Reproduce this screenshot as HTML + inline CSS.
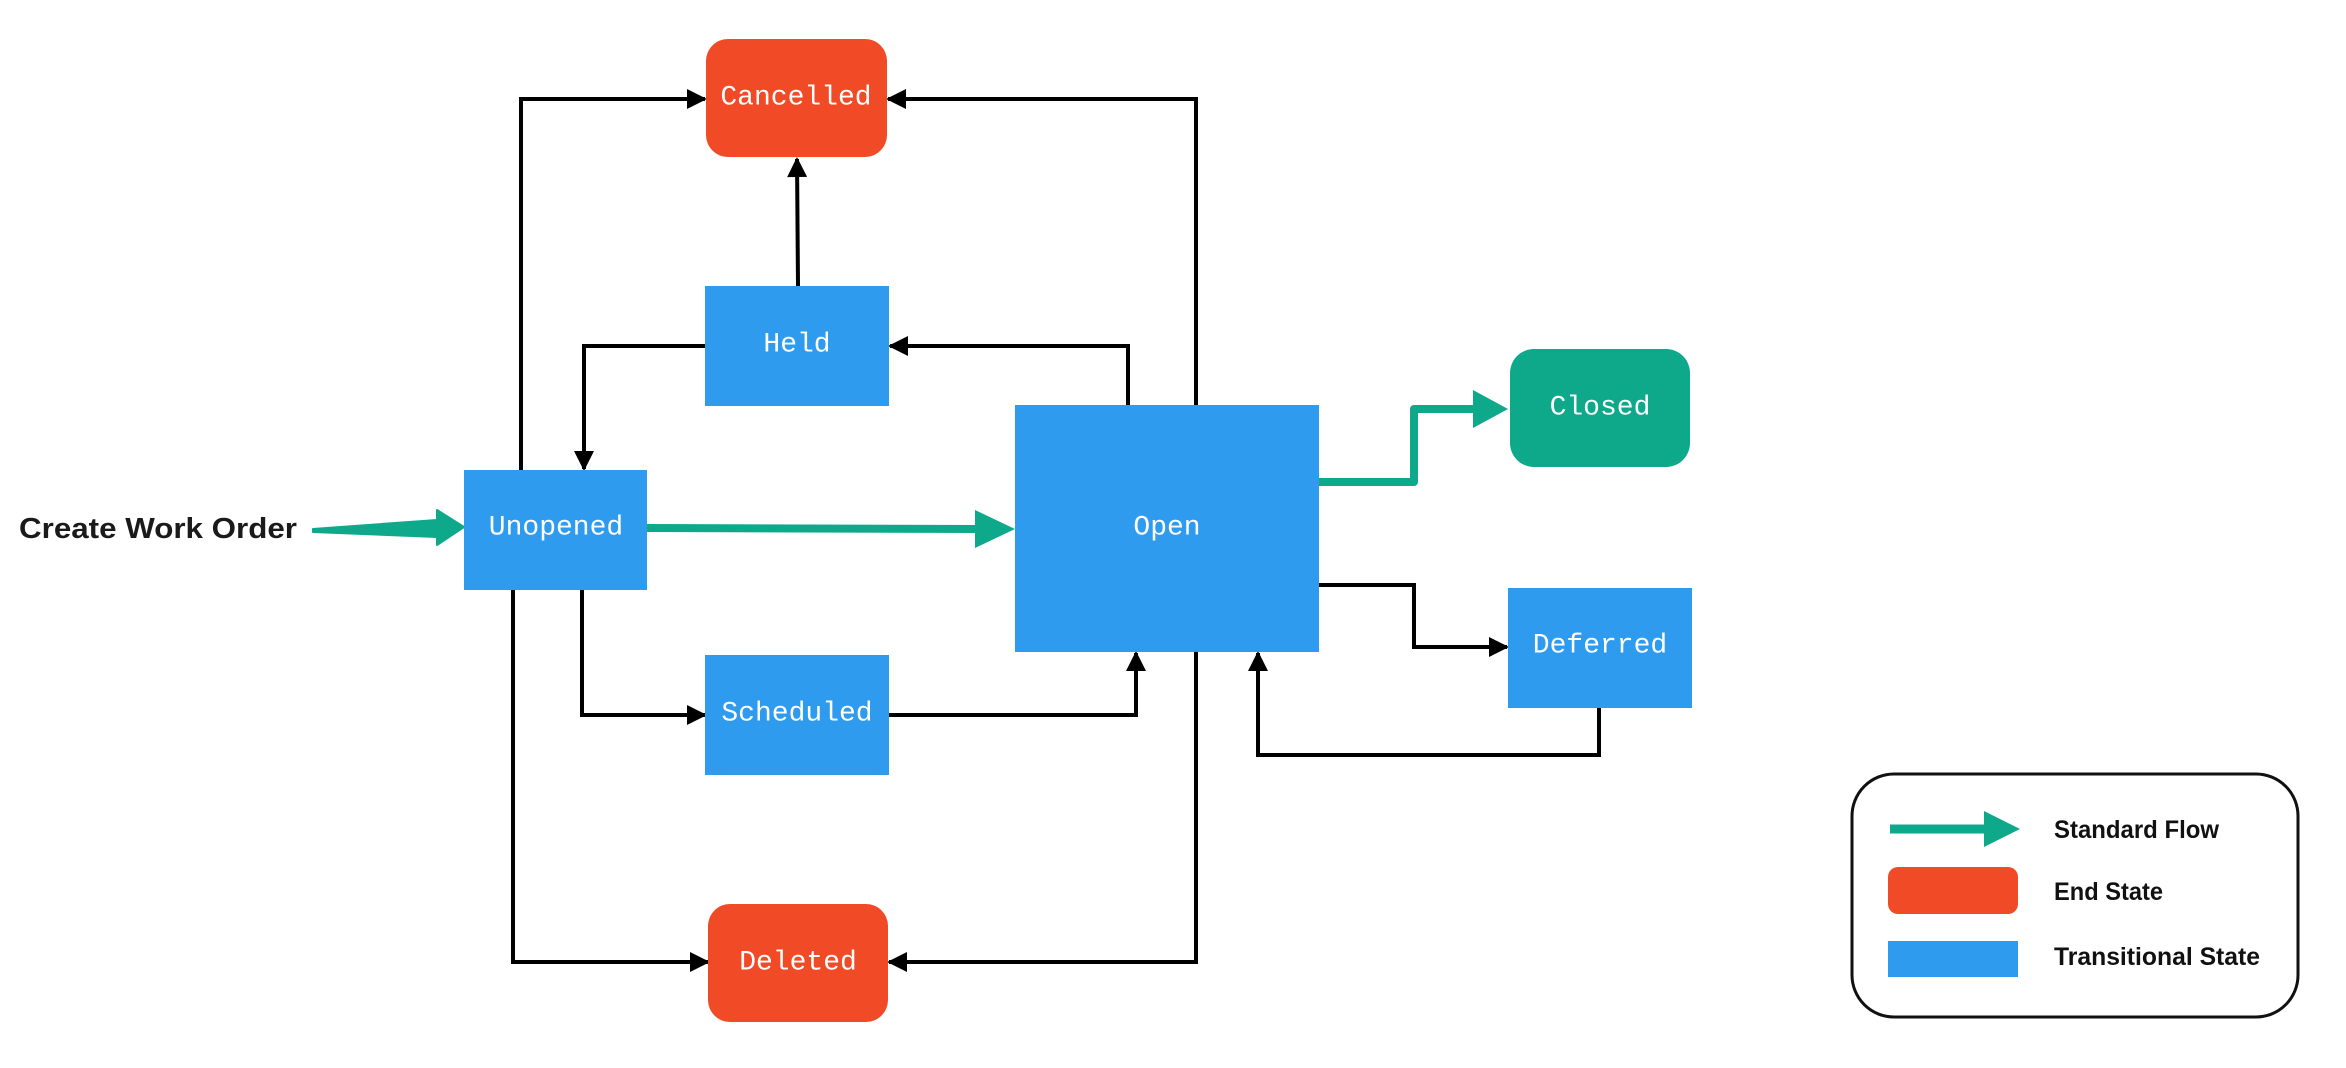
<!DOCTYPE html>
<html><head><meta charset="utf-8"><style>
html,body{margin:0;padding:0;background:#fff;}
svg{display:block}
.lbl{font-family:"Liberation Mono",monospace;font-size:28px;fill:#fff;text-anchor:middle;dominant-baseline:central}
.leg{font-family:"Liberation Sans",sans-serif;font-weight:bold;font-size:25px;fill:#111;dominant-baseline:central}
</style></head><body>
<svg width="2346" height="1068" viewBox="0 0 2346 1068" xmlns="http://www.w3.org/2000/svg">
<defs>
<marker id="ah" viewBox="0 0 10 10" refX="9" refY="5" markerWidth="5.5" markerHeight="5" orient="auto" markerUnits="strokeWidth">
<path d="M0,0 L10,5 L0,10 z" fill="#000"/>
</marker>
</defs>
<g fill="none" stroke="#000" stroke-width="4" stroke-linejoin="miter">
<polyline points="521,470 521,99 705,99" marker-end="url(#ah)"/>
<polyline points="1196,405 1196,99 888,99" marker-end="url(#ah)"/>
<polyline points="798,286 797,159" marker-end="url(#ah)"/>
<polyline points="705,346 584,346 584,469" marker-end="url(#ah)"/>
<polyline points="1128,405 1128,346 890,346" marker-end="url(#ah)"/>
<polyline points="582,590 582,715 705,715" marker-end="url(#ah)"/>
<polyline points="889,715 1136,715 1136,653" marker-end="url(#ah)"/>
<polyline points="513,590 513,962 708,962" marker-end="url(#ah)"/>
<polyline points="1196,652 1196,962 889,962" marker-end="url(#ah)"/>
<polyline points="1319,585 1414,585 1414,647 1507,647" marker-end="url(#ah)"/>
<polyline points="1599,707 1599,755 1258,755 1258,653" marker-end="url(#ah)"/>
</g>
<polygon points="313,529 437,520 437,510 464,527 437,545 437,537 313,532" fill="#0DA98A" stroke="#0DA98A" stroke-width="2" stroke-linejoin="round"/>
<line x1="647" y1="528" x2="980" y2="529" stroke="#0DA98A" stroke-width="8"/>
<polygon points="975,510 1015,529 975,548" fill="#0DA98A"/>
<polyline points="1319,482 1414,482 1414,409 1475,409" fill="none" stroke="#0DA98A" stroke-width="8" stroke-linejoin="round"/>
<polygon points="1473,390 1508,409 1473,428" fill="#0DA98A"/>
<rect x="706" y="39" width="181" height="118" rx="22" fill="#F04A27"/>
<text class="lbl" x="796" y="98">Cancelled</text>
<rect x="705" y="286" width="184" height="120" fill="#2E9BEF"/>
<text class="lbl" x="797" y="345">Held</text>
<rect x="464" y="470" width="183" height="120" fill="#2E9BEF"/>
<text class="lbl" x="556" y="528">Unopened</text>
<rect x="705" y="655" width="184" height="120" fill="#2E9BEF"/>
<text class="lbl" x="797" y="714">Scheduled</text>
<rect x="708" y="904" width="180" height="118" rx="22" fill="#F04A27"/>
<text class="lbl" x="798" y="963">Deleted</text>
<rect x="1015" y="405" width="304" height="247" fill="#2E9BEF"/>
<text class="lbl" x="1167" y="528">Open</text>
<rect x="1510" y="349" width="180" height="118" rx="24" fill="#0DA98A"/>
<text class="lbl" x="1600" y="408">Closed</text>
<rect x="1508" y="588" width="184" height="120" fill="#2E9BEF"/>
<text class="lbl" x="1600" y="646">Deferred</text>
<text x="19" y="529" font-family="Liberation Sans, sans-serif" font-weight="bold" font-size="29" fill="#1a1a1a" dominant-baseline="central" textLength="278" lengthAdjust="spacingAndGlyphs">Create Work Order</text>
<rect x="1852" y="774" width="446" height="243" rx="42" fill="#fff" stroke="#111" stroke-width="3"/>
<line x1="1890" y1="829" x2="1990" y2="829" stroke="#0DA98A" stroke-width="9"/>
<polygon points="1984,811 2020,829 1984,847" fill="#0DA98A"/>
<rect x="1888" y="867" width="130" height="47" rx="10" fill="#F04A27"/>
<rect x="1888" y="941" width="130" height="36" fill="#2E9BEF"/>
<text class="leg" x="2054" y="830" textLength="165" lengthAdjust="spacingAndGlyphs">Standard Flow</text>
<text class="leg" x="2054" y="892" textLength="109" lengthAdjust="spacingAndGlyphs">End State</text>
<text class="leg" x="2054" y="957" textLength="206" lengthAdjust="spacingAndGlyphs">Transitional State</text>
</svg>
</body></html>
